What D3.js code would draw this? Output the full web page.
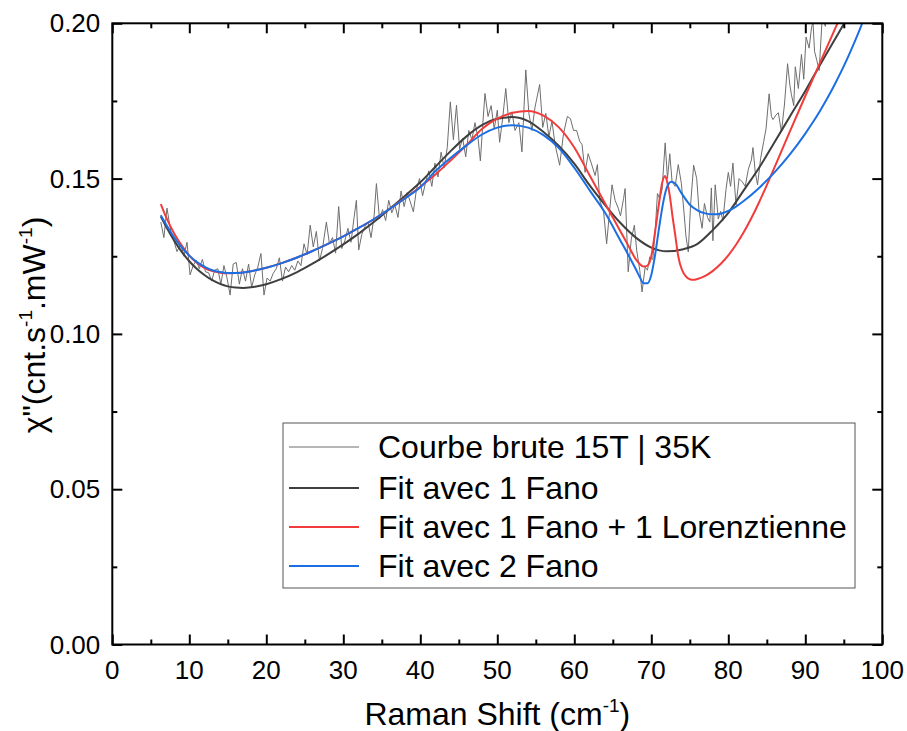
<!DOCTYPE html>
<html><head><meta charset="utf-8">
<script src="https://cdn.jsdelivr.net/npm/d3@7"></script>
<style>
html,body{margin:0;padding:0;background:#fff;}
text{font-family:"Liberation Sans",Arial,sans-serif;fill:#000;}
</style></head>
<body>
<svg id="chart" width="907" height="731"></svg>
<script>
// ---- data ----
const rawX = [6.3,6.7,7.1,7.6,8.0,8.4,8.9,9.3,9.7,10.1,10.5,10.9,11.3,11.7,12.1,12.5,12.9,13.3,13.7,14.1,14.5,14.9,15.3,15.7,16.1,16.5,16.9,17.3,17.7,18.1,18.5,18.9,19.3,19.7,20.1,20.5,20.9,21.3,21.7,22.1,22.5,22.9,23.3,23.7,24.1,24.5,24.9,25.3,25.7,26.1,26.5,26.9,27.3,27.8,28.2,28.6,29.0,29.4,29.8,30.2,30.6,31.0,31.4,31.7,32.0,32.4,32.8,33.2,33.6,34.0,34.3,34.7,35.1,35.5,35.9,36.3,36.7,37.1,37.5,37.9,38.3,38.7,39.1,39.5,39.9,40.3,40.7,41.1,41.5,41.9,42.3,42.7,43.1,43.5,43.9,44.3,44.7,45.1,45.5,45.9,46.3,46.7,47.1,47.5,47.8,48.1,48.4,48.8,49.2,49.6,50.0,50.3,50.7,51.1,51.5,51.9,52.3,52.8,53.2,53.7,54.1,54.5,54.9,55.5,55.9,56.3,56.7,57.1,57.5,58.1,58.6,59.1,59.5,59.9,60.3,60.7,61.0,61.4,61.8,62.2,62.7,63.0,63.3,63.8,64.2,64.6,64.9,65.3,65.7,66.0,66.4,66.6,67.0,67.4,67.8,68.1,68.5,68.8,69.2,69.5,69.8,70.2,70.5,70.8,71.1,71.4,71.8,72.1,72.4,72.7,73.1,73.5,73.9,74.2,74.5,74.8,75.1,75.5,75.9,76.2,76.6,76.9,77.3,77.6,77.8,78.0,78.3,78.7,79.0,79.3,79.7,80.0,80.3,80.6,81.0,81.4,81.8,82.2,82.6,83.0,83.2,83.5,83.8,84.2,84.6,84.9,85.3,85.6,85.8,86.2,86.5,86.9,87.3,87.7,88.0,88.2,88.5,88.7,89.1,89.5,89.8,90.1,90.5,90.8,91.0,91.2,91.5,91.8,92.2,92.6,93.0,93.3,93.7];
const rawY = [.136,.131,.1405,.133,.130,.1265,.129,.125,.1295,.119,.122,.1237,.121,.124,.120,.1197,.117,.1205,.121,.116,.122,.118,.1125,.1225,.123,.116,.121,.117,.1225,.115,.119,.1215,.1259,.1125,.118,.117,.1195,.121,.1245,.117,.1215,.120,.122,.1205,.1235,.122,.129,.1255,.135,.128,.133,.1235,.1275,.136,.129,.131,.126,.141,.1275,.130,.134,.1295,.1375,.143,.127,.132,.1345,.136,.131,.138,.1484,.137,.140,.1365,.143,.139,.1415,.1375,.146,.141,.1455,.1425,.1393,.1465,.150,.1445,.149,.1525,.1475,.155,.1505,.1585,.1535,.160,.1747,.1625,.1736,.1595,.163,.157,.1655,.1625,.168,.163,.1557,.167,.1774,.170,.1735,.166,.172,.1617,.1695,.179,.168,.1715,.1655,.168,.1586,.185,.171,.1655,.173,.1803,.1665,.171,.1635,.1685,.161,.1543,.1645,.170,.1693,.1655,.1655,.162,.161,.152,.158,.155,.151,.1545,.143,.1395,.129,.140,.148,.143,.1405,.138,.1436,.1468,.120,.1305,.1350,.127,.1205,.1135,.1215,.1205,.1248,.124,.133,.1452,.1435,.1465,.1615,.150,.158,.149,.1475,.1545,.1485,.1405,.1315,.1264,.1415,.1543,.150,.1395,.134,.142,.1375,.136,.147,.130,.148,.137,.1395,.1365,.1465,.152,.1475,.155,.1415,.150,.149,.1475,.153,.156,.160,.152,.148,.1565,.162,.166,.1773,.170,.169,.1705,.1712,.165,.174,.187,.180,.177,.1735,.186,.179,.190,.182,.1956,.192,.1985,.2005,.191,.188,.1848,.202,.199,.206,.203,.210];

const fit1X = [6.3,7,8,9,10,11,12,13,14,15,16,17,18,19,20,22,24,26,28,30,32,34,36,38,40,42,44,46,48,50,51.9,54,56,58,60,62,64,66,68,70,72,74,76,78,80,82,84,86,88,90,92,94,95,96];
const fit1Y = [.1378,.1345,.1302,.1265,.1234,.1209,.1189,.1173,.1161,.1153,.1149,.1148,.1150,.1154,.1160,.1177,.1199,.1226,.1256,.1288,.1323,.1361,.1402,.1444,.1488,.1539,.1590,.1636,.1672,.1693,.1698,.1685,.1650,.1605,.1548,.1478,.1415,.1357,.1310,.1278,.1266,.1272,.1290,.1335,.1390,.1462,.1535,.1617,.1700,.1782,.1870,.1955,.1998,.2042];

const fit2X = [6.3,7,8,9,10,11,12,13,14,15,16,17,18,20,22,24,26,28,30,32,34,36,38,40,42,44,46,48,50,52,54,56,58,60,62,64,66,67,68,69,69.5,70,70.5,71,71.4,71.8,72.1,72.4,72.8,73.1,73.5,74,75,75.5,76,77,78,79,80,81,82,83,84,85,86,87,88,90,92,94,95];
const fit2Y = [.1418,.1375,.1325,.1285,.1252,.1228,.1212,.1202,.1197,.1195,.1196,.1198,.1202,.1213,.1228,.1246,.1267,.1290,.1314,.1341,.1370,.1402,.1437,.1474,.1514,.1560,.1608,.1660,.1693,.1712,.1718,.1703,.1665,.1600,.1510,.1420,.1330,.1285,.1240,.1217,.1220,.1250,.1330,.1420,.1485,.1508,.1485,.1445,.1370,.1320,.1250,.1205,.1176,.1174,.1177,.1187,.1203,.1225,.1253,.1287,.1327,.1373,.1424,.1479,.1536,.1594,.1652,.1766,.1878,.1990,.2045];

const fit3X = [6.3,7,8,9,10,11,12,13,14,15,16,17,18,20,22,24,26,28,30,32,34,36,38,40,42,44,46,48,50,52,54,56,58,60,62,64,66,67,68,68.5,69,69.5,70,70.5,71,71.6,72,72.6,73.1,74,75,76,77,78,79,80,81,82,84,86,88,90,91,92,93,94,95,96,97,97.6];
const fit3Y = [.1382,.1352,.1312,.1279,.1252,.1231,.1216,.1205,.1199,.1196,.1196,.1198,.1202,.1213,.1228,.1246,.1267,.1290,.1314,.1341,.1370,.1402,.1436,.1472,.1525,.1568,.1607,.1642,.1664,.1672,.1664,.1640,.1598,.1535,.1462,.1390,.1300,.1255,.1208,.1183,.1163,.1163,.1190,.1255,.1340,.1430,.1470,.1490,.1484,.1450,.1416,.1398,.1388,.1385,.1387,.1396,.1410,.1428,.1470,.1520,.1578,.1645,.1682,.1722,.1765,.1812,.1862,.1917,.1976,.2013];

const xTicks = [0,10,20,30,40,50,60,70,80,90,100];
const yTicks = [0.00,0.05,0.10,0.15,0.20];
const legendLabels = ["Courbe brute 15T | 35K","Fit avec 1 Fano","Fit avec 1 Fano + 1 Lorenztienne","Fit avec 2 Fano"];

// ---- layout ----
const L = 112.3, R = 882.3, T = 23.3, B = 644.5;
const svg = d3.select("#chart");
const x = d3.scaleLinear().domain([0,100]).range([L,R]);
const y = d3.scaleLinear().domain([0,0.20]).range([B,T]);

svg.append("defs").append("clipPath").attr("id","clip")
  .append("rect").attr("x",L).attr("y",T).attr("width",R-L).attr("height",B-T);

const styles = [
  {color:"#6e6e6e", w:1},
  {color:"#3f3f3f", w:2},
  {color:"#f23c3c", w:2},
  {color:"#1b6fe3", w:2}
];

const g = svg.append("g").attr("clip-path","url(#clip)");
const lineRaw = d3.line().x(d=>x(d[0])).y(d=>y(d[1]));
const lineFit = d3.line().x(d=>x(d[0])).y(d=>y(d[1])).curve(d3.curveMonotoneX);

const series = [
  {xs:rawX, ys:rawY, gen:lineRaw},
  {xs:fit1X, ys:fit1Y, gen:lineFit},
  {xs:fit2X, ys:fit2Y, gen:lineFit},
  {xs:fit3X, ys:fit3Y, gen:lineFit}
];
series.forEach((s,i)=>{
  const pts = s.xs.map((v,k)=>[v,s.ys[k]]);
  g.append("path").attr("d",s.gen(pts)).attr("fill","none")
    .attr("stroke",styles[i].color).attr("stroke-width",styles[i].w)
    .attr("stroke-linejoin","round");
});

// ---- axes (ticks pointing inward on all four sides) ----
const minorX = [5,15,25,35,45,55,65,75,85,95];
const minorY = [0.025,0.075,0.125,0.175];
function ticks(sel, axis){ sel.call(axis.tickSizeOuter(0).tickFormat("")).call(a=>a.select(".domain").remove()); }
ticks(svg.append("g").attr("transform",`translate(0,${B})`), d3.axisTop(x).tickValues(xTicks).tickSizeInner(10));
ticks(svg.append("g").attr("transform",`translate(0,${B})`), d3.axisTop(x).tickValues(minorX).tickSizeInner(5));
ticks(svg.append("g").attr("transform",`translate(0,${T})`), d3.axisBottom(x).tickValues(xTicks).tickSizeInner(10));
ticks(svg.append("g").attr("transform",`translate(0,${T})`), d3.axisBottom(x).tickValues(minorX).tickSizeInner(5));
ticks(svg.append("g").attr("transform",`translate(${L},0)`), d3.axisRight(y).tickValues(yTicks).tickSizeInner(10));
ticks(svg.append("g").attr("transform",`translate(${L},0)`), d3.axisRight(y).tickValues(minorY).tickSizeInner(5));
ticks(svg.append("g").attr("transform",`translate(${R},0)`), d3.axisLeft(y).tickValues(yTicks).tickSizeInner(10));
ticks(svg.append("g").attr("transform",`translate(${R},0)`), d3.axisLeft(y).tickValues(minorY).tickSizeInner(5));
svg.selectAll(".tick line").attr("stroke","#000").attr("stroke-width",2);

// frame
svg.append("rect").attr("x",L).attr("y",T).attr("width",R-L).attr("height",B-T)
  .attr("fill","none").attr("stroke","#000").attr("stroke-width",2);

// tick labels
const fs = 26;
svg.append("g").selectAll("text").data(xTicks).join("text")
  .attr("x",d=>x(d)).attr("y",B+34).attr("text-anchor","middle")
  .attr("font-size",fs).text(d=>d3.format("d")(d));
svg.append("g").selectAll("text").data(yTicks).join("text")
  .attr("x",L-12).attr("y",d=>y(d)+9).attr("text-anchor","end")
  .attr("font-size",fs).text(d=>d3.format(".2f")(d));

// axis titles
const xt = svg.append("text").attr("x",(L+R)/2).attr("y",725).attr("text-anchor","middle").attr("font-size",32);
xt.append("tspan").text("Raman Shift (cm");
xt.append("tspan").attr("font-size",19).attr("dy",-13).text("-1");
xt.append("tspan").attr("dy",13).text(")");

const yt = svg.append("text").attr("transform",`translate(45,325) rotate(-90)`).attr("text-anchor","middle").attr("font-size",32);
yt.append("tspan").text("χ\"(cnt.s");
yt.append("tspan").attr("font-size",19).attr("dy",-13).text("-1");
yt.append("tspan").attr("dy",13).text(".mW");
yt.append("tspan").attr("font-size",19).attr("dy",-13).text("-1");
yt.append("tspan").attr("dy",13).text(")");

// legend
const lg = svg.append("g");
lg.append("rect").attr("x",283).attr("y",423).attr("width",572).attr("height",165)
  .attr("fill","#fff").attr("stroke","#555").attr("stroke-width",1);
const rowY = [447,488,527,566];
legendLabels.forEach((t,i)=>{
  lg.append("line").attr("x1",289).attr("x2",359).attr("y1",rowY[i]).attr("y2",rowY[i])
    .attr("stroke",styles[i].color).attr("stroke-width",styles[i].w);
  lg.append("text").attr("x",378).attr("y",rowY[i]+11).attr("font-size",32).text(t);
});
</script>
</body></html>
